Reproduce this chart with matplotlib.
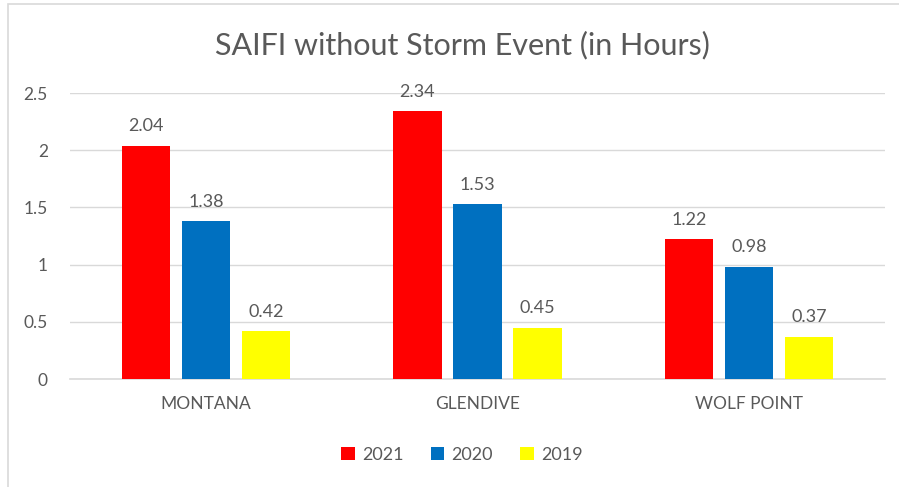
import numpy as np
import matplotlib.pyplot as plt
from matplotlib.patches import Rectangle

plt.rcParams['font.family'] = ['Lato', 'DejaVu Sans']

regions = ['MONTANA', 'GLENDIVE', 'WOLF POINT']
years = ['2021', '2020', '2019']
saifi_2021 = [2.04, 2.34, 1.22]
saifi_2020 = [1.38, 1.53, 0.98]
saifi_2019 = [0.42, 0.45, 0.37]
colors = ['#FF0000', '#0070C0', '#FFFF00']
text_color = '#595959'

fig = plt.figure(figsize=(8.99, 4.87), dpi=100)
ax = fig.add_axes([70 / 899, 1 - 379 / 487, 815 / 899, 286 / 487])

# chart area border
fig.patches.append(Rectangle((8 / 899, -0.05), 1.0, 1 - 4 / 487 + 0.05,
                             transform=fig.transFigure, fill=False,
                             edgecolor='#D9D9D9', linewidth=1.2))

x = np.arange(len(regions))
width = 0.177
step = 0.221
for i, (vals, yr) in enumerate(zip([saifi_2021, saifi_2020, saifi_2019], years)):
    pos = x + (i - 1) * step
    bars = ax.bar(pos, vals, width, color=colors[i], label=yr, zorder=3)
    for b, v in zip(bars, vals):
        ax.text(b.get_x() + b.get_width() / 2, v + 0.1, f'{v:g}',
                ha='center', va='bottom', fontsize=13, color=text_color)

ax.set_xlim(-0.5, 2.5)
ax.set_ylim(0, 2.5)
ax.set_yticks([0, 0.5, 1, 1.5, 2, 2.5])
ax.set_yticklabels(['0', '0.5', '1', '1.5', '2', '2.5'])
ax.set_xticks(x)
ax.set_xticklabels(regions)
ax.tick_params(axis='both', length=0, labelsize=12.5, labelcolor=text_color)
ax.tick_params(axis='y', pad=16)
ax.tick_params(axis='x', pad=12)
ax.grid(axis='y', color='#D9D9D9', linewidth=1, zorder=0)
for s in ['top', 'right', 'left']:
    ax.spines[s].set_visible(False)
ax.spines['bottom'].set_color('#D9D9D9')
ax.spines['bottom'].set_linewidth(1.2)

fig.text(462 / 899, 1 - 45 / 487, 'SAIFI without Storm Event (in Hours)',
         ha='center', va='center', fontsize=22, color=text_color)

fig.legend(loc='center', bbox_to_anchor=(462 / 899, 1 - 455 / 487), ncol=3,
           frameon=False, fontsize=13, handlelength=0.75, handleheight=0.75,
           handletextpad=0.4, columnspacing=1.5, labelcolor=text_color)

fig.savefig('out.png', dpi=100)
